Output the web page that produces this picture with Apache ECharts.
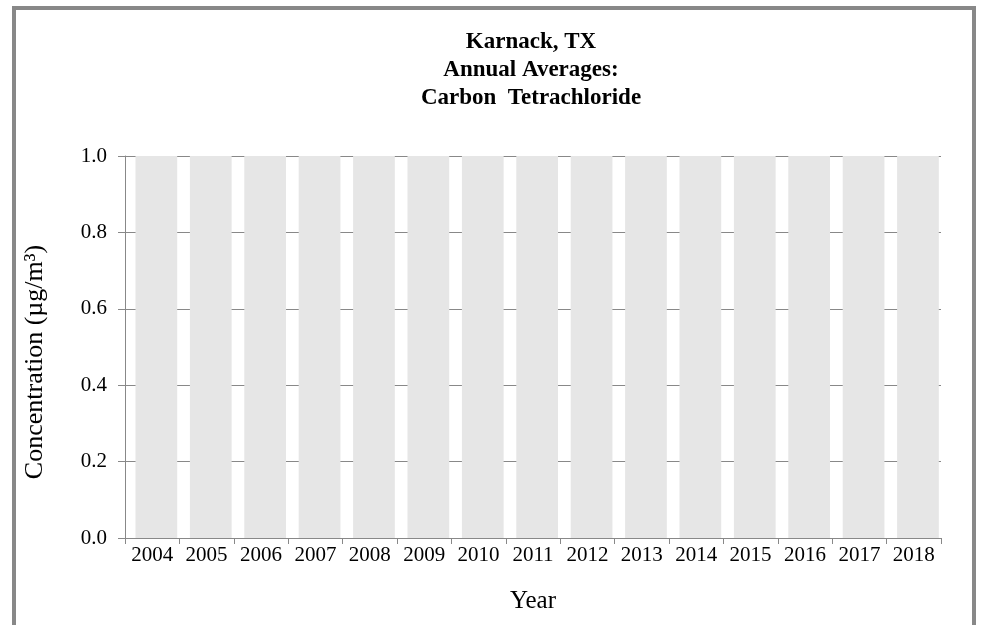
<!DOCTYPE html>
<html>
<head>
<meta charset="utf-8">
<script src="https://cdn.jsdelivr.net/npm/echarts@6/dist/echarts.min.js"></script>
<style>
html,body{margin:0;padding:0;background:#fff;}
#chart{width:982px;height:625px;}
</style>
</head>
<body>
<div id="chart"></div>
<script>
const years = ['2004','2005','2006','2007','2008','2009','2010','2011','2012','2013','2014','2015','2016','2017','2018'];
const barValues = [1.0,1.0,1.0,1.0,1.0,1.0,1.0,1.0,1.0,1.0,1.0,1.0,1.0,1.0,1.0];
const titleLines = ['Karnack, TX','Annual Averages:','Carbon  Tetrachloride'];

const FONT = '"Liberation Serif", "Times New Roman", serif';
const chart = echarts.init(document.getElementById('chart'));
chart.setOption({
  animation: false,
  backgroundColor: '#fff',
  title: {
    text: titleLines.join('\n'),
    left: 526,
    top: 23,
    textAlign: 'center',
    textStyle: { fontFamily: FONT, fontSize: 23, fontWeight: 'bold', color: '#000', lineHeight: 28 }
  },
  graphic: [{
    type: 'rect',
    shape: { x: 14, y: 8, width: 960, height: 700 },
    style: { fill: 'none', stroke: '#888', lineWidth: 4 },
    silent: true
  }],
  grid: { left: 125, right: 41, top: 156, bottom: 87 },
  xAxis: {
    type: 'category',
    data: years,
    name: 'Year',
    nameLocation: 'middle',
    nameGap: 51,
    nameTextStyle: { fontFamily: FONT, fontSize: 25, color: '#000' },
    axisLine: { lineStyle: { color: '#888', width: 1 } },
    axisTick: { show: true, length: 6, lineStyle: { color: '#888' } },
    axisLabel: { fontFamily: FONT, fontSize: 21, color: '#000', margin: 7, interval: 0 }
  },
  yAxis: {
    type: 'value',
    min: 0, max: 1, interval: 0.2,
    name: 'Concentration (µg/m³)',
    nameLocation: 'middle',
    nameGap: 77,
    nameTextStyle: { fontFamily: FONT, fontSize: 26, color: '#000', padding: [0, 30, 0, 0] },
    axisLine: { show: true, lineStyle: { color: '#888', width: 1 } },
    axisTick: { show: true, length: 7, lineStyle: { color: '#888' } },
    axisLabel: { fontFamily: FONT, fontSize: 21, color: '#000', margin: 18, formatter: v => v.toFixed(1) },
    splitLine: { show: true, lineStyle: { color: '#888', width: 1 } }
  },
  series: [{
    type: 'custom',
    silent: true,
    data: barValues.map((v, i) => [i, v]),
    encode: { x: 0, y: 1 },
    renderItem: function (params, api) {
      const i = api.value(0);
      const v = api.value(1);
      const top = api.coord([i, v]);
      const base = api.coord([i, 0]);
      const bw = api.size([1, 0])[0];
      return {
        type: 'rect',
        shape: { x: top[0] - bw / 2 + bw * 0.193, y: top[1], width: bw * 0.767, height: base[1] - top[1] },
        style: { fill: '#e6e6e6' }
      };
    }
  }]
});
</script>
</body>
</html>
